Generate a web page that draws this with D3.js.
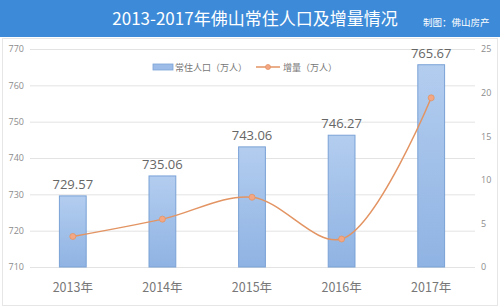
<!DOCTYPE html>
<html><head><meta charset="utf-8">
<script src="https://cdn.jsdelivr.net/npm/d3@7"></script>
<style>html,body{margin:0;padding:0;background:#fff;}svg{display:block;font-family:"Noto Sans CJK SC","Microsoft YaHei",sans-serif;}</style>
</head><body><svg id="c" width="500" height="308"></svg>
<script>
const years = ["2013年","2014年","2015年","2016年","2017年"];
const population = [729.57, 735.06, 743.06, 746.27, 765.67];
const increase = [3.5, 5.49, 8.0, 3.21, 19.4];
const leftTicks = [710,720,730,740,750,760,770];
const rightTicks = [0,5,10,15,20,25];

const svg = d3.select("#c");
// title bar
svg.append("rect").attr("x",0).attr("y",0).attr("width",500).attr("height",37).attr("fill","#3d8bd8");
svg.append("text").attr("x",255).attr("y",25).attr("text-anchor","middle").attr("fill","#fff")
  .attr("font-size",17).text("2013-2017年佛山常住人口及增量情况");
svg.append("text").attr("x",423).attr("y",26).attr("fill","#fff").attr("font-size",9.5).text("制图：佛山房产");
// border
svg.append("rect").attr("x",2.5).attr("y",38.5).attr("width",495).attr("height",267).attr("fill","none").attr("stroke","#e6e6e6");

const x = d3.scaleBand().domain(years).range([28,476]).paddingInner(0.69).paddingOuter(0.345);
const yL = d3.scaleLinear().domain([710,770]).range([267,49]);
const yR = d3.scaleLinear().domain([0,25]).range([267,49]);

// grid
svg.append("g").selectAll("line").data(leftTicks).join("line")
  .attr("x1",30).attr("x2",475).attr("y1",d=>yL(d)+0.5).attr("y2",d=>yL(d)+0.5)
  .attr("stroke","#e3e3e3");

// left axis
const ga = svg.append("g").attr("transform","translate(24,0)")
  .call(d3.axisLeft(yL).tickValues(leftTicks).tickSize(0).tickPadding(0));
ga.select(".domain").remove();
ga.selectAll("text").attr("fill","#8c8c8c").attr("font-size",9).attr("font-family","Open Sans, sans-serif");
// right axis
const gr = svg.append("g").attr("transform","translate(481,0)")
  .call(d3.axisRight(yR).tickValues(rightTicks).tickSize(0).tickPadding(0));
gr.select(".domain").remove();
gr.selectAll("text").attr("fill","#8c8c8c").attr("font-size",9).attr("font-family","Open Sans, sans-serif");

// gradient
const defs = svg.append("defs");
const lg = defs.append("linearGradient").attr("id","bg").attr("x1",0).attr("y1",0).attr("x2",0).attr("y2",1);
lg.append("stop").attr("offset","0%").attr("stop-color","#b3cdef");
lg.append("stop").attr("offset","100%").attr("stop-color","#8fb3e3");

svg.append("g").selectAll("rect").data(population).join("rect")
  .attr("x",(d,i)=>x(years[i])+0.5).attr("width",x.bandwidth()-1)
  .attr("y",d=>yL(d)).attr("height",d=>yL(710)-yL(d))
  .attr("fill","url(#bg)").attr("stroke","#7aa2d6").attr("stroke-width",1);

svg.append("g").selectAll("text").data(population).join("text")
  .attr("x",(d,i)=>x(years[i])+x.bandwidth()/2).attr("y",d=>yL(d)-7)
  .attr("text-anchor","middle").attr("fill","#666").attr("font-size",13)
  .attr("font-family","Open Sans, sans-serif").text(d=>d.toFixed(2));

// line
const line = d3.line().x((d,i)=>x(years[i])+x.bandwidth()/2).y(d=>yR(d)).curve(d3.curveCatmullRom.alpha(0.5));
svg.append("path").datum(increase).attr("d",line).attr("fill","none").attr("stroke","#e39463").attr("stroke-width",1.5);
svg.append("g").selectAll("circle").data(increase).join("circle")
  .attr("cx",(d,i)=>x(years[i])+x.bandwidth()/2).attr("cy",d=>yR(d)).attr("r",3)
  .attr("fill","#f3a784").attr("stroke","#e39463").attr("stroke-width",0.8);

// x labels
svg.append("g").selectAll("text").data(years).join("text")
  .attr("x",d=>x(d)+x.bandwidth()/2).attr("y",292).attr("text-anchor","middle")
  .attr("fill","#777").attr("font-size",12.5).text(d=>d);

// legend
svg.append("rect").attr("x",153).attr("y",64).attr("width",20).attr("height",6)
  .attr("fill","#9dbde8").attr("stroke","#7aa2d6").attr("stroke-width",0.8);
svg.append("text").attr("x",175).attr("y",71).attr("fill","#777").attr("font-size",9).text("常住人口（万人）");
svg.append("line").attr("x1",256).attr("x2",280).attr("y1",67).attr("y2",67).attr("stroke","#e39463").attr("stroke-width",1.5);
svg.append("circle").attr("cx",268).attr("cy",67).attr("r",2.5).attr("fill","#f3a784").attr("stroke","#e39463").attr("stroke-width",0.8);
svg.append("text").attr("x",283).attr("y",71).attr("fill","#777").attr("font-size",9).text("增量（万人）");
</script></body></html>
